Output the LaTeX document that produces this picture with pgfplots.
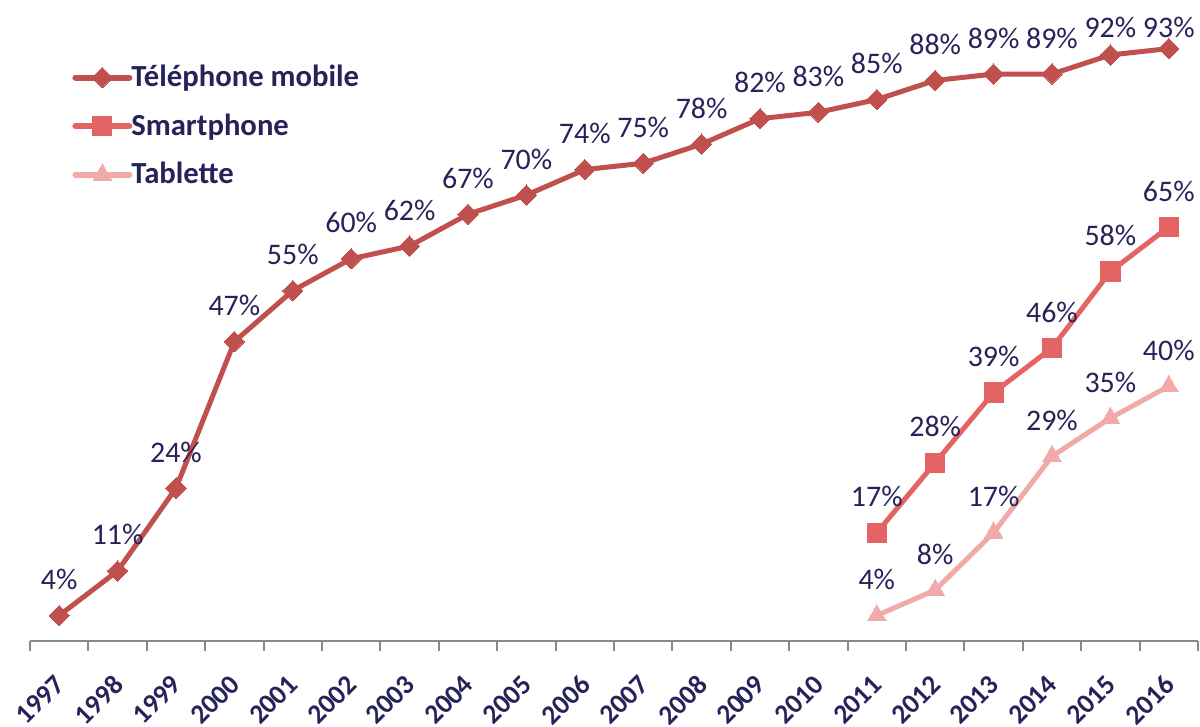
\documentclass[border=0pt]{standalone}
\usepackage{pgfplots}
\pgfplotsset{compat=1.18}
\usepackage{pgfplotstable}
\usepackage{fontspec}
\setmainfont{Carlito}
\definecolor{navy}{HTML}{26235A}
\definecolor{cPhone}{HTML}{C0504D}
\definecolor{cSmart}{HTML}{E46464}
\definecolor{cTab}{HTML}{F0AAAA}
\definecolor{axgray}{HTML}{898989}

\pgfplotstableread{
x y off
1997 4 18
1998 11 18
1999 24 18
2000 47 18
2001 55 18
2002 60 18
2003 62 18
2004 67 18
2005 70 18
2006 74 18
2007 75 18
2008 78 18
2009 82 18
2010 83 18
2011 85 18
2012 88 18
2013 89 18
2014 89 18
2015 92 14
2016 93 10.5
}\phone
\pgfplotstableread{
x y
2011 17
2012 28
2013 39
2014 46
2015 58
2016 65
}\smart
\pgfplotstableread{
x y
2011 4
2012 8
2013 17
2014 29
2015 35
2016 40
}\tablette

\begin{document}
\begin{tikzpicture}
\begin{axis}[
  scale only axis, width=584bp, height=318.5bp,
  xmin=1996.5, xmax=2016.5, ymin=0, ymax=100,
  axis x line*=bottom, hide y axis,
  axis line style={axgray, line width=1bp},
  xtick={1997,...,2016},
  minor xtick={1996.5,1997.5,...,2016.5},
  major tick length=0pt, minor tick length=5bp,
  tick align=outside,
  minor tick style={axgray, line width=1bp},
  x tick label style={xshift=-3bp, yshift=-16bp, rotate=45, anchor=north east, inner sep=0pt,
    font=\bfseries\fontsize{13.8}{16}\selectfont, text=navy,
    /pgf/number format/1000 sep={}, /pgf/number format/assume math mode=true},
  clip=false,
  every node near coord/.append style={font=\fontsize{15}{17}\selectfont, text=navy, inner sep=0pt, anchor=center},
  legend style={at={([xshift=18bp,yshift=-27.5bp]rel axis cs:0,1)}, anchor=north west, draw=none, fill=none,
    font=\bfseries\fontsize{15.4}{17}\selectfont, text=navy, row sep=10bp,
    nodes={inner sep=1bp},
    /tikz/every odd column/.append style={column sep=-1.5bp}},
  legend cell align=left,
  legend image code/.code={\draw[mark repeat=2,mark phase=2, line cap=round, line width=3bp] plot coordinates {(0bp,0bp)(13.5bp,0bp)(27bp,0bp)};},
]
\path ([xshift=-15bp,yshift=-42bp]rel axis cs:0,0) rectangle ([xshift=1bp,yshift=2bp]rel axis cs:1,1);

\addplot[cPhone, line width=2.5bp, line join=round, mark=square*, mark size=3.6bp,
  mark options={rotate=45, solid, fill=cPhone, draw=cPhone, line width=0pt},
  visualization depends on={\thisrow{off}\as\myoff},
  nodes near coords={\pgfmathprintnumber[assume math mode=true]{\pgfplotspointmeta}\%},
  every node near coord/.append style={yshift=\myoff bp}]
  table[x=x,y=y] {\phone};
\addlegendentry{Téléphone mobile}

\addplot[cSmart, line width=2.5bp, line join=round, mark=square*, mark size=4.8bp,
  mark options={solid, fill=cSmart, draw=cSmart, line width=0pt},
  nodes near coords={\pgfmathprintnumber[assume math mode=true]{\pgfplotspointmeta}\%},
  every node near coord/.append style={yshift=18bp}]
  table[x=x,y=y] {\smart};
\addlegendentry{Smartphone}

\addplot[cTab, line width=2.5bp, line join=round, mark=triangle*, mark size=5.4bp,
  mark options={solid, fill=cTab, draw=cTab, line width=0pt},
  nodes near coords={\pgfmathprintnumber[assume math mode=true]{\pgfplotspointmeta}\%},
  every node near coord/.append style={yshift=18bp}]
  table[x=x,y=y] {\tablette};
\addlegendentry{Tablette}
\end{axis}
\end{tikzpicture}
\end{document}
